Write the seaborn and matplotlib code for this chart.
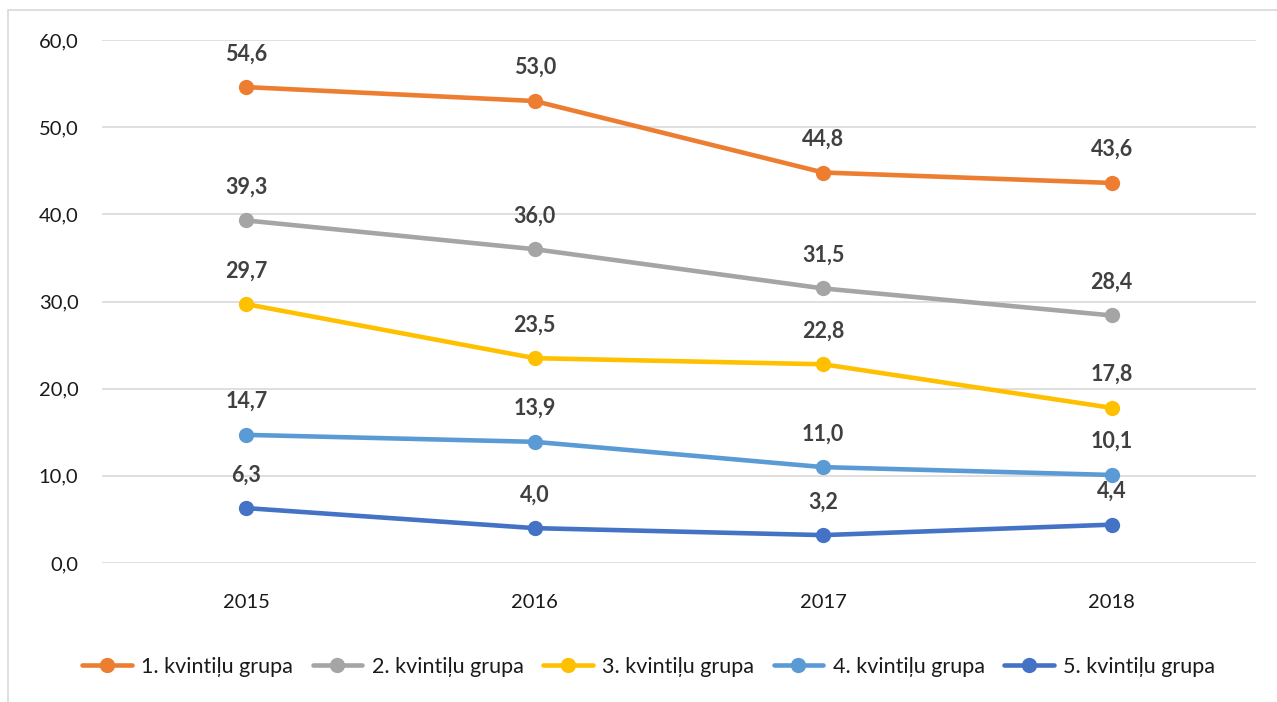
import matplotlib
matplotlib.use("Agg")
import matplotlib.pyplot as plt
import matplotlib.patches as mpatches
from matplotlib.ticker import FuncFormatter
import seaborn as sns
import pandas as pd

years = ["2015", "2016", "2017", "2018"]
groups = ["1. kvintiļu grupa", "2. kvintiļu grupa", "3. kvintiļu grupa",
          "4. kvintiļu grupa", "5. kvintiļu grupa"]
q1 = [54.6, 53.0, 44.8, 43.6]
q2 = [39.3, 36.0, 31.5, 28.4]
q3 = [29.7, 23.5, 22.8, 17.8]
q4 = [14.7, 13.9, 11.0, 10.1]
q5 = [6.3, 4.0, 3.2, 4.4]
colors = ["#ED7D31", "#A5A5A5", "#FFC000", "#5B9BD5", "#4472C4"]

series = [q1, q2, q3, q4, q5]
df = pd.DataFrame(
    [(i, y, g, v) for g, vals in zip(groups, series)
     for i, (y, v) in enumerate(zip(years, vals))],
    columns=["pos", "year", "group", "value"],
)

sns.set_theme(style="white")
plt.rcParams["font.family"] = ["Lato", "DejaVu Sans"]

fig = plt.figure(figsize=(12.77, 7.02), dpi=100)
ax = fig.add_axes([0.0799, 0.198, 0.9036, 0.745])

# outer chart frame
fig.patches.append(mpatches.Rectangle((8 / 1277, -0.05), 1.2, 1 - 10 / 702 + 0.05,
                                      transform=fig.transFigure, fill=False,
                                      edgecolor="#D9D9D9", linewidth=1.2, zorder=0))

sns.lineplot(data=df, x="pos", y="value", hue="group", hue_order=groups,
             palette=colors, marker="o", markersize=11, markeredgewidth=0,
             linewidth=3.3, ax=ax, legend=True, zorder=3)

for vals in series:
    for i, v in enumerate(vals):
        ax.annotate(f"{v:.1f}".replace(".", ","), (i, v), xytext=(0, 24),
                    textcoords="offset points", ha="center", va="center",
                    fontsize=15.5, fontweight="bold", color="#404040")

ax.set_xlim(-0.5, 3.5)
ax.set_ylim(0, 60)
ax.set_xticks(range(len(years)))
ax.set_xticklabels(years)
ax.set_yticks(range(0, 61, 10))
ax.yaxis.set_major_formatter(FuncFormatter(lambda v, p: f"{v:.1f}".replace(".", ",")))
ax.tick_params(axis="x", length=0, pad=22, labelsize=14.5, labelcolor="#1a1a1a")
ax.tick_params(axis="y", length=0, pad=17, labelsize=14.5, labelcolor="#1a1a1a")
ax.set_xlabel("")
ax.set_ylabel("")
ax.grid(axis="y", color="#D9D9D9", linewidth=1.2)
ax.set_axisbelow(True)
for s in ax.spines.values():
    s.set_visible(False)

handles, labels = ax.get_legend_handles_labels()
ax.get_legend().remove()
fig.legend(handles, labels, loc="center", bbox_to_anchor=(0.508, 0.05), ncol=5,
           frameon=False, fontsize=15.5, handlelength=2.3, handletextpad=0.45,
           columnspacing=0.9, labelcolor="#1a1a1a")

fig.savefig("out.png", dpi=100)
